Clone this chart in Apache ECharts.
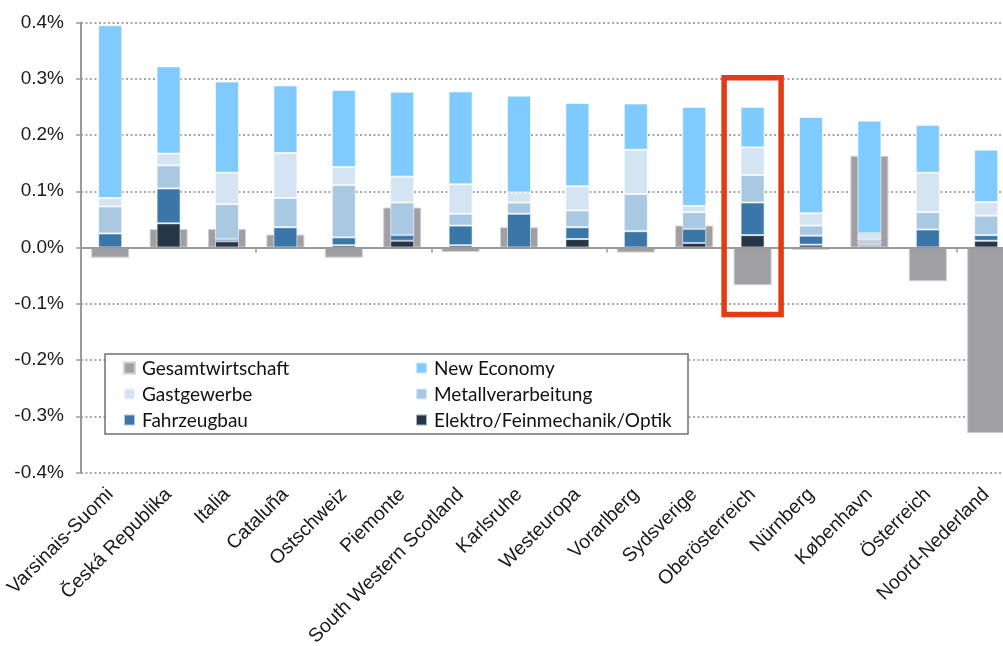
<!DOCTYPE html>
<html>
<head>
<meta charset="utf-8">
<script src="https://cdn.jsdelivr.net/npm/echarts@6/dist/echarts.min.js"></script>
<style>
  html, body { margin: 0; padding: 0; background: #fff; }
  #chart { width: 1003px; height: 646px; }
</style>
</head>
<body>
<div id="chart"></div>
<script>
// regions, sorted by total of the sector contributions
var categories = ['Varsinais-Suomi', 'Česká Republika', 'Italia', 'Cataluña', 'Ostschweiz', 'Piemonte',
  'South Western Scotland', 'Karlsruhe', 'Westeuropa', 'Vorarlberg', 'Sydsverige', 'Oberösterreich',
  'Nürnberg', 'København', 'Österreich', 'Noord-Nederland'];

// values in percentage points
var gesamt   = [-0.018, 0.033, 0.033, 0.023, -0.018, 0.071, -0.008, 0.036, 0, -0.009, 0.039, -0.067, -0.004, 0.163, -0.060, -0.330];
var elektro  = [0, 0.043, 0.011, 0, 0.004, 0.012, 0.004, 0, 0.015, 0, 0.008, 0.022, 0.005, 0.003, 0, 0.012];
var fahrzeug = [0.025, 0.062, 0.004, 0.036, 0.014, 0.010, 0.035, 0.060, 0.021, 0.029, 0.025, 0.058, 0.016, 0.003, 0.032, 0.010];
var metall   = [0.048, 0.041, 0.062, 0.052, 0.093, 0.058, 0.021, 0.020, 0.030, 0.066, 0.030, 0.049, 0.018, 0.0065, 0.031, 0.0345];
var gast     = [0.015, 0.021, 0.056, 0.080, 0.032, 0.046, 0.0525, 0.018, 0.043, 0.079, 0.011, 0.049, 0.022, 0.013, 0.070, 0.0245];
var newEco   = [0.307, 0.155, 0.162, 0.120, 0.137, 0.151, 0.165, 0.172, 0.148, 0.082, 0.176, 0.072, 0.171, 0.200, 0.085, 0.093];

// red frame around this region
var highlight = 'Oberösterreich';
var boxTop = 0.302, boxBottom = -0.119;

var leftCol = ['Gesamtwirtschaft', 'Gastgewerbe', 'Fahrzeugbau'];

var myChart = echarts.init(document.getElementById('chart'));

function stackSeries(name, data, color) {
  return {
    name: name,
    type: 'bar',
    stack: 'sektoren',
    xAxisIndex: 1,
    barWidth: 24,
    data: data,
    itemStyle: { color: color, borderColor: 'rgba(255,255,255,0.6)', borderWidth: 1 },
    z: 3
  };
}

myChart.setOption({
  animation: false,
  textStyle: { fontFamily: 'Liberation Sans, Arial, sans-serif' },
  grid: { left: 81, top: 22.5, width: 934.4, height: 450, outerBoundsMode: 'none', containLabel: false },
  legend: {
    data: ['Gesamtwirtschaft', 'New Economy', 'Gastgewerbe', 'Metallverarbeitung', 'Fahrzeugbau', 'Elektro/Feinmechanik/Optik'],
    left: 105,
    top: 354,
    width: 560,
    padding: [1, 7, 1, 18],
    itemGap: 0,
    itemWidth: 11,
    itemHeight: 11,
    icon: 'rect',
    backgroundColor: '#fff',
    borderColor: '#707070',
    borderWidth: 1.5,
    formatter: function (name) {
      return (leftCol.indexOf(name) >= 0 ? '{a|' : '{b|') + name + '}';
    },
    textStyle: {
      lineHeight: 26,
      rich: {
        a: { width: 273, padding: [4, 0, 3, 2], lineHeight: 19, fontSize: 19, fontFamily: 'Lato', color: '#111' },
        b: { width: 247, padding: [4, 0, 3, 2], lineHeight: 19, fontSize: 19, fontFamily: 'Lato', color: '#111' }
      }
    }
  },
  xAxis: [
    {
      // labels at the bottom
      type: 'category',
      data: categories,
      position: 'bottom',
      axisLine: { show: false, onZero: false },
      axisTick: { show: false },
      axisLabel: { interval: 0, rotate: 45, margin: 19, fontSize: 19.5, color: '#1a1a1a' },
      splitLine: { show: false }
    },
    {
      // zero line with ticks between regions
      type: 'category',
      data: categories,
      position: 'bottom',
      z: 10,
      axisLine: { show: true, onZero: true, lineStyle: { color: '#9a9a9a', width: 2 } },
      axisTick: { show: true, length: 5, lineStyle: { color: '#9a9a9a', width: 1.5 } },
      axisLabel: { show: false },
      splitLine: { show: false }
    }
  ],
  yAxis: {
    type: 'value',
    min: -0.4,
    max: 0.4,
    interval: 0.1,
    axisLine: { show: true, lineStyle: { color: '#9a9a9a', width: 2 } },
    axisTick: { show: true, length: 5, lineStyle: { color: '#9a9a9a', width: 1.5 } },
    axisLabel: {
      margin: 17,
      fontSize: 19,
      color: '#1a1a1a',
      formatter: function (v) { return v.toFixed(1) + '%'; }
    },
    splitLine: { show: true, lineStyle: { color: '#8a8a8a', width: 1.5, type: [2, 2.5] } }
  },
  series: [
    {
      name: 'Gesamtwirtschaft',
      type: 'bar',
      xAxisIndex: 0,
      barWidth: 38,
      data: gesamt,
      itemStyle: { color: '#a0a0a4', borderColor: '#d0d0d2', borderWidth: 1 },
      z: 2
    },
    stackSeries('Elektro/Feinmechanik/Optik', elektro, '#253646'),
    stackSeries('Fahrzeugbau', fahrzeug, '#3a76a8'),
    stackSeries('Metallverarbeitung', metall, '#a9c8e2'),
    stackSeries('Gastgewerbe', gast, '#d4e4f2'),
    stackSeries('New Economy', newEco, '#7fcaff')
  ]
});

// red frame, placed through the axes
var p1 = myChart.convertToPixel({ xAxisIndex: 1, yAxisIndex: 0 }, [highlight, boxTop]);
var p2 = myChart.convertToPixel({ xAxisIndex: 1, yAxisIndex: 0 }, [highlight, boxBottom]);
var half = 28.5;
myChart.setOption({
  graphic: [{
    type: 'rect',
    z: 100,
    shape: { x: p1[0] - half, y: p1[1], width: half * 2, height: p2[1] - p1[1] },
    style: { fill: 'none', stroke: '#e23c14', lineWidth: 5.5 }
  }]
});
</script>
</body>
</html>
